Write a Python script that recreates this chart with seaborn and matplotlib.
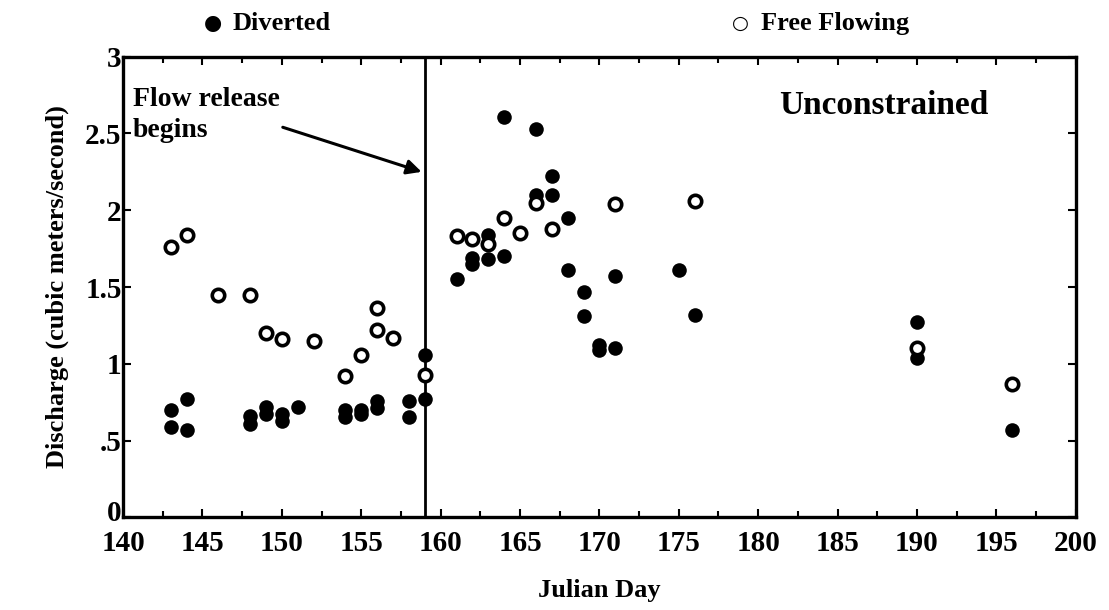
import pandas as pd
import matplotlib
matplotlib.use("Agg")
import matplotlib.pyplot as plt
import matplotlib.transforms as mtransforms
from matplotlib.ticker import MultipleLocator, FixedLocator
import seaborn as sns

# Diverted reach (filled circles)
div_day = [143, 143, 144, 144, 148, 148, 149, 149, 150, 150, 151, 154, 154,
           155, 155, 156, 156, 158, 158, 159, 159,
           161, 162, 162, 163, 163, 164, 164, 166, 166, 167, 167, 168, 168,
           169, 169, 170, 170, 171, 171, 175, 176, 190, 190, 196]
div_q = [0.70, 0.59, 0.77, 0.57, 0.66, 0.61, 0.72, 0.67, 0.67, 0.63, 0.72, 0.70, 0.65,
         0.70, 0.67, 0.76, 0.71, 0.76, 0.65, 1.06, 0.77,
         1.55, 1.69, 1.65, 1.84, 1.68, 2.61, 1.70, 2.53, 2.10, 2.22, 2.10, 1.95, 1.61,
         1.47, 1.31, 1.12, 1.09, 1.57, 1.10, 1.61, 1.32, 1.27, 1.04, 0.57]

# Free flowing reach (open circles)
free_day = [143, 144, 146, 148, 149, 150, 152, 154, 155, 156, 156, 157, 159,
            161, 162, 163, 164, 165, 166, 167, 171, 176, 190, 196]
free_q = [1.76, 1.84, 1.45, 1.45, 1.20, 1.16, 1.15, 0.92, 1.06, 1.36, 1.22, 1.17, 0.93,
          1.83, 1.81, 1.78, 1.95, 1.85, 2.05, 1.88, 2.04, 2.06, 1.10, 0.87]

release_day = 159
y_ticks = [0, 0.5, 1, 1.5, 2, 2.5, 3]
y_labels = ["0", ".5", "1", "1.5", "2", "2.5", "3"]

div = pd.DataFrame({"day": div_day, "q": div_q})
free = pd.DataFrame({"day": free_day, "q": free_q})

sns.set_theme(style="ticks")
plt.rcParams["font.family"] = ["Liberation Serif", "DejaVu Serif"]
plt.rcParams["font.weight"] = "bold"
plt.rcParams["text.color"] = "black"
plt.rcParams["axes.labelcolor"] = "black"
plt.rcParams["xtick.color"] = "black"
plt.rcParams["ytick.color"] = "black"

fig = plt.figure(figsize=(11.09, 6.10), dpi=100)
ax = fig.add_axes([0.111, 0.152, 0.859, 0.755])

sns.scatterplot(data=div, x="day", y="q", ax=ax, marker="o", s=110,
                color="black", edgecolor="black", linewidth=0, zorder=3)
sns.scatterplot(data=free, x="day", y="q", ax=ax, marker="o", s=80,
                facecolor="white", edgecolor="black", linewidth=2.6, zorder=4)

ax.axvline(release_day, color="black", lw=2)

ax.set_xlim(140, 200)
ax.set_ylim(0, 3)
ax.xaxis.set_major_locator(MultipleLocator(5))
ax.xaxis.set_minor_locator(MultipleLocator(2.5))
ax.yaxis.set_major_locator(FixedLocator(y_ticks))
ax.set_yticklabels(y_labels)
ax.tick_params(which="both", direction="in", top=True, right=True,
               width=1.5, length=6, labelsize=21, pad=1)
ax.tick_params(axis="x", pad=9)
ax.tick_params(which="minor", length=4)
for sp in ax.spines.values():
    sp.set_linewidth(2.4)
    sp.set_color("black")

# lift the "0" label a little so it clears the "140" below it
zero_lbl = ax.get_yticklabels()[0]
zero_lbl.set_transform(zero_lbl.get_transform() +
                       mtransforms.ScaledTranslation(0, 5 / 72, fig.dpi_scale_trans))

ax.set_xlabel("Julian Day", fontsize=19, fontweight="bold", labelpad=16)
ax.set_ylabel("Discharge (cubic meters/second)", fontsize=19, fontweight="bold", labelpad=12)

ax.annotate("Flow release\nbegins", xy=(158.8, 2.25), xytext=(140.6, 2.62),
            fontsize=20, fontweight="bold", va="center", ha="left", linespacing=1.3,
            arrowprops=dict(arrowstyle="-|>", color="black", lw=2.2,
                            mutation_scale=22, shrinkA=0, shrinkB=0,
                            relpos=(1.0, 0.3)))
ax.text(194.5, 2.68, "Unconstrained", fontsize=24, fontweight="bold",
        ha="right", va="center")

# legend row above the axes
fig.text(0.192, 0.962, "\u25cf", fontsize=15, ha="center", va="center",
         family=["DejaVu Sans"])
fig.text(0.210, 0.962, "Diverted", fontsize=19, fontweight="bold", va="center")
fig.text(0.668, 0.962, "\u25cb", fontsize=14, ha="center", va="center",
         family=["DejaVu Sans"], fontweight="bold")
fig.text(0.686, 0.962, "Free Flowing", fontsize=19, fontweight="bold", va="center")

fig.savefig("out.png", dpi=100, facecolor="white")
